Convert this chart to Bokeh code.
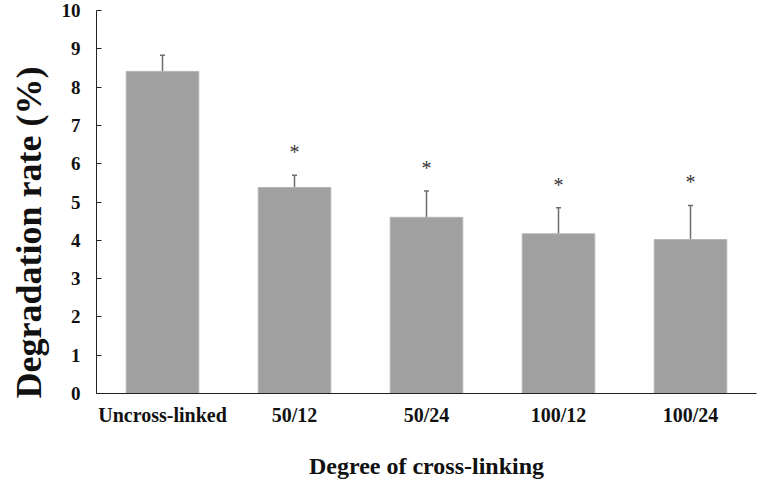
import math
from bokeh.plotting import figure
from bokeh.models import ColumnDataSource, FactorRange, Range1d, FixedTicker, Whisker, TeeHead, Title
from bokeh.core.properties import value
from bokeh.embed import file_html
from bokeh.resources import INLINE

categories = ["Uncross-linked", "50/12", "50/24", "100/12", "100/24"]
means = [8.41, 5.38, 4.60, 4.17, 4.02]
errors = [0.42, 0.32, 0.69, 0.68, 0.89]
significant = ["", "*", "*", "*", "*"]
y_ticks = [0, 1, 2, 3, 4, 5, 6, 7, 8, 9, 10]

upper = [m + e for m, e in zip(means, errors)]
lower = [m - e for m, e in zip(means, errors)]
star_y = [u + 0.6 for u in upper]

source = ColumnDataSource(dict(cat=categories, mean=means, upper=upper, lower=lower,
                               star=significant, star_y=star_y))

FONT = "Liberation Serif"

p = figure(width=759, height=481, x_range=FactorRange(*categories, range_padding=0),
           y_range=Range1d(0, 10), output_backend="svg", toolbar_location=None,
           min_border_left=96, min_border_right=3, min_border_top=10, min_border_bottom=88)

p.vbar(x="cat", top="mean", width=0.55, source=source, fill_color="#a0a0a0",
       line_color="#b5b5b5", line_width=1)

w = Whisker(source=source, base="cat", upper="upper", lower="lower",
            line_color="#6e6e6e", line_width=1.5,
            upper_head=TeeHead(size=5, line_color="#6e6e6e", line_width=1.5),
            lower_head=TeeHead(size=5, line_color="#6e6e6e", line_width=1.5))
p.add_layout(w)

p.text(x="cat", y="star_y", text="star", source=source, text_font=value(FONT),
       text_font_size="20px", text_color="#333333", text_align="center",
       text_baseline="middle")

p.xgrid.visible = False
p.ygrid.visible = False
p.outline_line_color = None

p.yaxis.ticker = FixedTicker(ticks=y_ticks)
p.yaxis.major_tick_in = 5
p.yaxis.major_tick_out = 0
p.yaxis.minor_tick_line_color = None
p.yaxis.major_label_standoff = 16
p.yaxis.axis_line_color = "#222222"
p.yaxis.major_tick_line_color = "#222222"
p.yaxis.major_label_text_font = FONT
p.yaxis.major_label_text_font_style = "bold"
p.yaxis.major_label_text_font_size = "19px"
p.yaxis.major_label_text_color = "#111111"

p.xaxis.major_tick_in = 0
p.xaxis.major_tick_out = 0
p.xaxis.axis_line_color = "#222222"
p.xaxis.major_label_standoff = 10
p.xaxis.major_label_text_font = FONT
p.xaxis.major_label_text_font_style = "bold"
p.xaxis.major_label_text_font_size = "20px"
p.xaxis.major_label_text_color = "#111111"
p.xaxis.axis_label = "Degree of cross-linking"
p.xaxis.axis_label_text_font = FONT
p.xaxis.axis_label_text_font_style = "bold"
p.xaxis.axis_label_text_font_size = "24px"
p.xaxis.axis_label_text_color = "#111111"
p.xaxis.axis_label_standoff = 24

ytitle = Title(text="Degradation rate (%)", align="left", offset=-5,
               vertical_align="top", standoff=16,
               text_font=FONT, text_font_style="bold", text_font_size="36px",
               text_color="#111111")
p.add_layout(ytitle, "left")

open("out.html", "w").write(file_html(p, INLINE))
